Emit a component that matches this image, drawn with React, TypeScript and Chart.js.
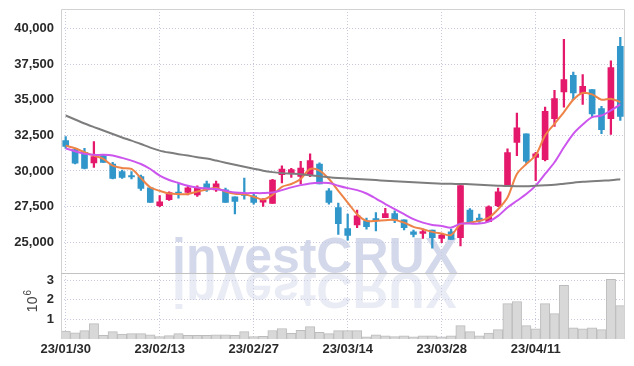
import React, { useEffect, useRef } from 'react';
import { Chart, registerables } from 'chart.js';

Chart.register(...registerables);

const dates = [
  '23/01/30', '23/01/31', '23/02/01', '23/02/02', '23/02/03', '23/02/06', '23/02/07', '23/02/08', '23/02/09', '23/02/10',
  '23/02/13', '23/02/14', '23/02/15', '23/02/16', '23/02/17', '23/02/20', '23/02/21', '23/02/22', '23/02/23', '23/02/24',
  '23/02/27', '23/02/28', '23/03/02', '23/03/03', '23/03/06', '23/03/07', '23/03/08', '23/03/09', '23/03/10', '23/03/13',
  '23/03/14', '23/03/15', '23/03/16', '23/03/17', '23/03/20', '23/03/21', '23/03/22', '23/03/23', '23/03/24', '23/03/27',
  '23/03/28', '23/03/29', '23/03/30', '23/03/31', '23/04/03', '23/04/04', '23/04/05', '23/04/06', '23/04/07', '23/04/10',
  '23/04/11', '23/04/12', '23/04/13', '23/04/14', '23/04/17', '23/04/18', '23/04/19', '23/04/20', '23/04/21', '23/04/24',
];

const openPrices = [
  32130, 31500, 31310, 30560, 31080, 30490, 29950, 29670, 29600, 28820,
  27560, 27980, 28520, 28490, 28330, 29100, 28680, 28680, 28190, 28380,
  28260, 27820, 27720, 29740, 29880, 29620, 29740, 30490, 28610, 27440,
  25960, 26220, 26500, 26660, 26730, 27010, 26570, 25730, 25630, 25850,
  25280, 25730, 25320, 27250, 26690, 26450, 27560, 28970, 32010, 32610,
  30960, 30800, 33660, 35540, 36710, 35420, 35700, 34370, 33660, 38750,
];
const highPrices = [
  32420, 31590, 31590, 32060, 31150, 30600, 30070, 29950, 29720, 28850,
  28280, 28540, 29150, 28960, 28960, 29300, 29300, 28800, 28190, 29510,
  28400, 28070, 29420, 30370, 30180, 30680, 31200, 30580, 28770, 27750,
  26970, 27250, 26690, 27080, 27390, 27200, 26570, 25850, 25920, 25850,
  25610, 25920, 28970, 27370, 26970, 27560, 28800, 31550, 34060, 32610,
  31310, 34480, 35660, 39230, 36940, 36760, 35700, 34530, 37720, 39370,
];
const lowPrices = [
  31590, 30500, 30150, 30250, 30600, 29450, 29480, 29440, 28630, 27790,
  27490, 27930, 28100, 28330, 28210, 28560, 28560, 27790, 26990, 28030,
  27680, 27510, 27720, 29160, 29550, 29090, 29600, 29090, 27680, 25560,
  25140, 26030, 25920, 25800, 26730, 26380, 25870, 25370, 25280, 24580,
  24970, 25210, 24740, 26380, 26400, 26450, 27490, 28970, 31080, 30540,
  29320, 30700, 33120, 34480, 35000, 34670, 33810, 32610, 32560, 33540,
];
const closePrices = [
  31730, 30540, 30180, 31010, 30600, 29480, 29550, 29580, 28780, 27790,
  27840, 28490, 28470, 28820, 28780, 28680, 29100, 27790, 27860, 28280,
  27790, 27960, 29370, 30140, 30090, 30210, 30730, 29090, 27790, 26310,
  25490, 26850, 26100, 26550, 27010, 26550, 26030, 25560, 25750, 25320,
  25510, 25210, 28970, 26380, 26500, 27490, 28540, 31290, 33030, 30680,
  31200, 34180, 35070, 36410, 35470, 35940, 34010, 32890, 37250, 33820,
];

const ma5 = [
  31780, 31590, 31310, 31080, 30850, 30370, 30210, 30140, 29500, 28850,
  28610, 28420, 28380, 28380, 28560, 28700, 28800, 28560, 28400, 28360,
  28190, 28000, 28320, 28890, 29090, 29440, 30140, 30020, 29440, 28610,
  27790, 26970, 26500, 26500, 26550, 26570, 26380, 26080, 25920, 25730,
  25610, 25510, 26270, 26380, 26500, 26730, 27320, 28140, 29790, 30490,
  31100, 32490, 33310, 34130, 35000, 35470, 35370, 35000, 35070, 34830,
];
const ma10 = [
  31590, 31380, 31200, 31130, 31130, 31080, 30920, 30730, 30490, 30140,
  29670, 29370, 29160, 28970, 28850, 28780, 28730, 28610, 28490, 28450,
  28450, 28450, 28490, 28660, 28850, 29010, 29130, 29180, 29160, 28970,
  28800, 28660, 28420, 28070, 27680, 27320, 26970, 26620, 26380, 26220,
  26150, 26030, 26310, 26310, 26310, 26450, 26850, 27440, 27910, 28380,
  28970, 29790, 30610, 31660, 32610, 33260, 33780, 33890, 34250, 34670,
];
const ma60 = [
  33890, 33610, 33330, 33080, 32840, 32590, 32350, 32130, 31890, 31640,
  31430, 31290, 31180, 31080, 30970, 30870, 30730, 30580, 30440, 30300,
  30160, 30020, 29920, 29850, 29810, 29770, 29700, 29630, 29560, 29510,
  29480, 29440, 29400, 29360, 29320, 29280, 29250, 29210, 29180, 29140,
  29110, 29100, 29090, 29070, 29040, 29000, 28970, 28940, 28930, 28930,
  28970, 29000, 29040, 29110, 29180, 29250, 29280, 29320, 29350, 29420,
];

const volumes = [
  400000, 310000, 420000, 780000, 180000, 370000, 240000, 270000, 270000, 210000,
  120000, 170000, 270000, 180000, 180000, 180000, 210000, 210000, 180000, 370000,
  120000, 130000, 430000, 530000, 280000, 440000, 630000, 340000, 270000, 420000,
  420000, 420000, 110000, 210000, 160000, 120000, 160000, 110000, 160000, 160000,
  110000, 160000, 680000, 370000, 160000, 300000, 470000, 1800000, 1910000, 680000,
  520000, 1800000, 1290000, 2730000, 570000, 520000, 570000, 470000, 3040000, 1700000,
];

const priceTicks = [25000, 27500, 30000, 32500, 35000, 37500, 40000];
const volumeTicks = [1000000, 2000000, 3000000];
const watermarkText = 'investCRUX';
const volumeUnitBase = '10';
const volumeUnitExp = '6';

const UP = '#e5196b';
const DOWN = '#3196c9';
const GRID = '#c9c9de';
const FONT = '"Liberation Sans", Arial, sans-serif';

export default function App() {
  const ref = useRef<HTMLCanvasElement>(null);

  useEffect(() => {
    document.body.style.margin = '0';
    const isUp = closePrices.map((c, i) => c >= openPrices[i]);
    const candleColors = isUp.map((u) => (u ? UP : DOWN));

    const fitY = (scale: any) => {
      scale.width = 61;
      scale.paddingTop = 0;
      scale.paddingBottom = 0;
    };

    const decor = {
      id: 'decor',
      beforeDraw(chart: any) {
        const { ctx, chartArea } = chart;
        const y2 = chart.scales.y2;
        const base = y2.top;
        ctx.save();
        ctx.beginPath();
        ctx.rect(chartArea.left, chartArea.top, chartArea.right - chartArea.left, chartArea.bottom - chartArea.top);
        ctx.clip();
        ctx.font = `bold 50px ${FONT}`;
        const w = ctx.measureText(watermarkText).width;
        const size = 50 * (286 / w);
        ctx.font = `bold ${size}px ${FONT}`;
        ctx.textBaseline = 'alphabetic';
        ctx.textAlign = 'left';
        ctx.fillStyle = 'rgba(150,162,205,0.42)';
        ctx.fillText(watermarkText, 172, base);
        ctx.translate(0, 2 * base);
        ctx.scale(1, -1);
        ctx.fillStyle = 'rgba(150,162,205,0.2)';
        ctx.fillText(watermarkText, 172, base);
        ctx.restore();
      },
      afterDraw(chart: any) {
        const { ctx, chartArea } = chart;
        const y2 = chart.scales.y2;
        ctx.save();
        ctx.strokeStyle = '#d2d2d2';
        ctx.lineWidth = 1;
        ctx.beginPath();
        ctx.moveTo(chartArea.left + 0.5, chartArea.bottom);
        ctx.lineTo(chartArea.left + 0.5, chartArea.top + 0.5);
        ctx.lineTo(chartArea.right - 0.5, chartArea.top + 0.5);
        ctx.lineTo(chartArea.right - 0.5, chartArea.bottom);
        ctx.stroke();
        ctx.strokeStyle = '#c2c2c2';
        ctx.beginPath();
        ctx.moveTo(chartArea.left, Math.round(y2.top) + 0.5);
        ctx.lineTo(chartArea.right, Math.round(y2.top) + 0.5);
        ctx.stroke();
        // volume unit label (rotated)
        const cy = (y2.top + y2.bottom) / 2 + 6;
        ctx.translate(37, cy);
        ctx.rotate(-Math.PI / 2);
        ctx.fillStyle = '#444';
        ctx.textBaseline = 'alphabetic';
        ctx.textAlign = 'left';
        ctx.font = `14px ${FONT}`;
        ctx.fillText(volumeUnitBase, 0, 0);
        const bw = ctx.measureText(volumeUnitBase).width;
        ctx.font = `10px ${FONT}`;
        ctx.fillText(volumeUnitExp, bw + 1, -6);
        ctx.restore();
      },
    };

    const chart = new Chart(ref.current!, {
      type: 'bar',
      data: {
        labels: dates,
        datasets: [
          {
            type: 'line',
            label: 'MA60',
            data: ma60,
            borderColor: '#7d7d7d',
            borderWidth: 2,
            pointRadius: 0,
            tension: 0.3,
            yAxisID: 'y',
            order: 0,
          } as any,
          {
            type: 'line',
            label: 'MA10',
            data: ma10,
            borderColor: '#cc55ee',
            borderWidth: 2,
            pointRadius: 0,
            tension: 0.3,
            yAxisID: 'y',
            order: 0,
          },
          {
            type: 'line',
            label: 'MA5',
            data: ma5,
            borderColor: '#ee8347',
            borderWidth: 2,
            pointRadius: 0,
            tension: 0.3,
            yAxisID: 'y',
            order: 0,
          },
          {
            type: 'bar',
            label: 'body',
            data: openPrices.map((o, i) => [o, closePrices[i]]),
            backgroundColor: candleColors,
            borderWidth: 0,
            barThickness: 6,
            grouped: false,
            yAxisID: 'y',
            order: 1,
          } as any,
          {
            type: 'bar',
            label: 'wick',
            data: lowPrices.map((l, i) => [l, highPrices[i]]),
            backgroundColor: candleColors,
            borderWidth: 0,
            barThickness: 1.6,
            grouped: false,
            yAxisID: 'y',
            order: 2,
          } as any,
          {
            type: 'bar',
            label: 'volume',
            data: volumes,
            backgroundColor: '#d8d8d8',
            borderColor: '#bcbcbc',
            borderWidth: 1,
            borderSkipped: 'bottom',
            barPercentage: 1,
            categoryPercentage: 1,
            grouped: false,
            yAxisID: 'y2',
            order: 3,
          } as any,
        ],
      },
      options: {
        responsive: false,
        animation: false,
        devicePixelRatio: 1,
        layout: { padding: { top: 9, right: 9, left: 0, bottom: 5.5 } },
        plugins: { legend: { display: false }, tooltip: { enabled: false } },
        scales: {
          x: {
            type: 'category',
            offset: true,
            afterBuildTicks: (scale: any) => {
              scale.ticks = scale.ticks.filter((t: any) => t.value % 10 === 0);
            },
            afterFit: (scale: any) => {
              scale.paddingLeft = 0;
              scale.paddingRight = 0;
            },
            grid: { offset: false, color: GRID, drawTicks: false },
            border: { display: false, dash: [1, 2] },
            ticks: {
              autoSkip: false,
              maxRotation: 0,
              padding: 3,
              color: '#2a2a2a',
              font: { family: FONT, size: 13, weight: 'bold' },
            },
          },
          y2: {
            type: 'linear',
            position: 'left',
            stack: 'panel',
            stackWeight: 65.2,
            min: 0,
            max: 3344000,
            afterBuildTicks: (scale: any) => {
              scale.ticks = volumeTicks.map((v) => ({ value: v }));
            },
            afterFit: fitY,
            grid: { color: GRID, drawTicks: false },
            border: { display: false, dash: [1, 2] },
            ticks: {
              autoSkip: false,
              padding: 7,
              color: '#2a2a2a',
              font: { family: FONT, size: 13, weight: 'bold' },
              callback: (v: any) => String(Number(v) / 1000000),
            },
          },
          y: {
            type: 'linear',
            position: 'left',
            stack: 'panel',
            stackWeight: 263.3,
            min: 22817,
            max: 41359,
            afterBuildTicks: (scale: any) => {
              scale.ticks = priceTicks.map((v) => ({ value: v }));
            },
            afterFit: fitY,
            grid: { color: GRID, drawTicks: false },
            border: { display: false, dash: [1, 2] },
            ticks: {
              autoSkip: false,
              padding: 7,
              color: '#2a2a2a',
              font: { family: FONT, size: 13, weight: 'bold' },
              callback: (v: any) => Number(v).toLocaleString('en-US'),
            },
          },
        },
      } as any,
      plugins: [decor],
    });
    return () => chart.destroy();
  }, []);

  return (
    <div style={{ width: 634, height: 366 }}>
      <canvas ref={ref} width={634} height={366} style={{ display: 'block' }} />
    </div>
  );
}
